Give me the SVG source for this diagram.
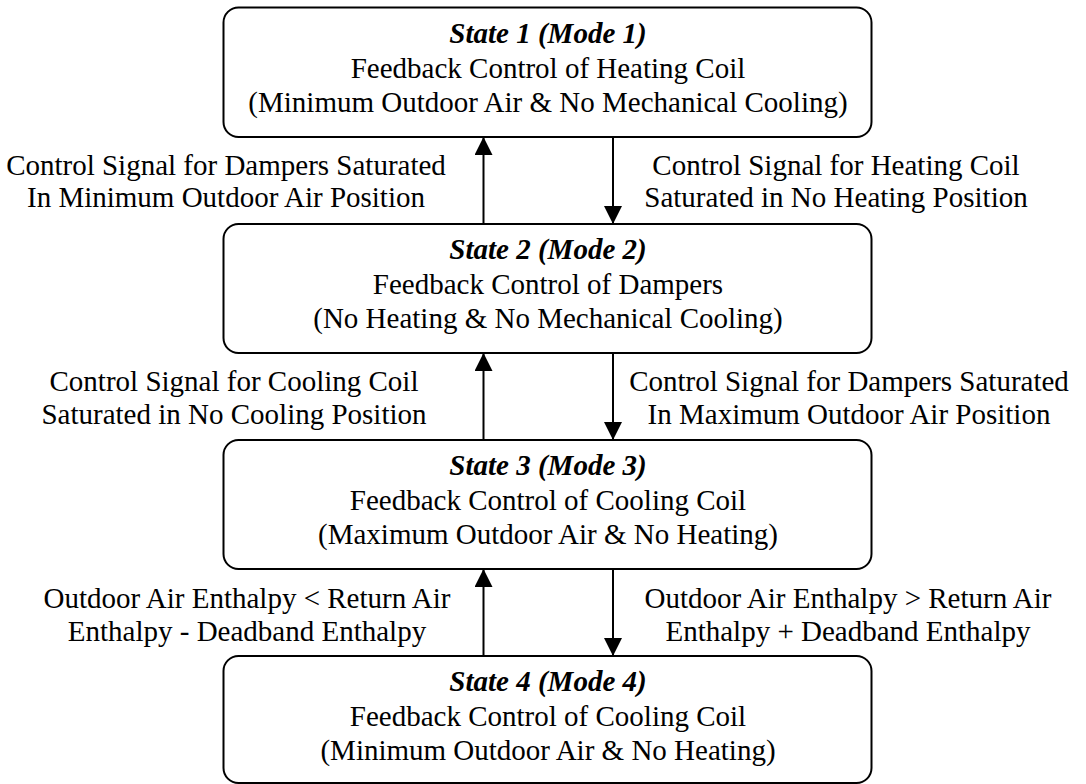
<svg xmlns="http://www.w3.org/2000/svg" width="1086" height="784" viewBox="0 0 1086 784">
<style>
  .box { fill: #ffffff; stroke: #000000; stroke-width: 2; }
  .t { font-family: "Liberation Serif", "Times New Roman", serif; font-size: 29px; fill: #000000; text-anchor: middle; }
  .ti { font-weight: bold; font-style: italic; }
  .conn { stroke: #000000; stroke-width: 2; fill: none; marker-end: url(#ah); }
</style>
<defs>
  <marker id="ah" viewBox="0 0 18 18" refX="18" refY="9" markerWidth="18" markerHeight="18" markerUnits="userSpaceOnUse" orient="auto">
    <path d="M0,0 L18,9 L0,18 Z" fill="#000000"/>
  </marker>
</defs>
<rect width="1086" height="784" fill="#ffffff"/>

<g id="state1">
  <rect class="box" x="223.5" y="7.5" width="648" height="129.5" rx="15" ry="15"/>
  <text class="t ti" x="548" y="43">State 1 (Mode 1)</text>
  <text class="t" x="548" y="78">Feedback Control of Heating Coil</text>
  <text class="t" x="548" y="112">(Minimum Outdoor Air &amp; No Mechanical Cooling)</text>
</g>
<g id="state2">
  <rect class="box" x="223.5" y="224" width="648" height="129" rx="15" ry="15"/>
  <text class="t ti" x="548" y="259">State 2 (Mode 2)</text>
  <text class="t" x="548" y="294">Feedback Control of Dampers</text>
  <text class="t" x="548" y="328">(No Heating &amp; No Mechanical Cooling)</text>
</g>
<g id="state3">
  <rect class="box" x="223.5" y="440" width="648" height="129" rx="15" ry="15"/>
  <text class="t ti" x="548" y="475">State 3 (Mode 3)</text>
  <text class="t" x="548" y="510">Feedback Control of Cooling Coil</text>
  <text class="t" x="548" y="544">(Maximum Outdoor Air &amp; No Heating)</text>
</g>
<g id="state4">
  <rect class="box" x="223.5" y="656" width="648" height="127" rx="15" ry="15"/>
  <text class="t ti" x="548" y="691">State 4 (Mode 4)</text>
  <text class="t" x="548" y="726">Feedback Control of Cooling Coil</text>
  <text class="t" x="548" y="760">(Minimum Outdoor Air &amp; No Heating)</text>
</g>

<g id="connectors">
  <line class="conn" x1="483.5" y1="224" x2="483.5" y2="137"/>
  <line class="conn" x1="613" y1="137" x2="613" y2="224"/>
  <line class="conn" x1="483.5" y1="440" x2="483.5" y2="353"/>
  <line class="conn" x1="613" y1="353" x2="613" y2="440"/>
  <line class="conn" x1="483.5" y1="656" x2="483.5" y2="569"/>
  <line class="conn" x1="613" y1="569" x2="613" y2="656"/>
</g>

<g id="labels">
  <text class="t" x="226" y="175">Control Signal for Dampers Saturated</text>
  <text class="t" x="226" y="207">In Minimum Outdoor Air Position</text>
  <text class="t" x="836" y="175">Control Signal for Heating Coil</text>
  <text class="t" x="836" y="207">Saturated in No Heating Position</text>
  <text class="t" x="234" y="391">Control Signal for Cooling Coil</text>
  <text class="t" x="234" y="424">Saturated in No Cooling Position</text>
  <text class="t" x="849" y="391">Control Signal for Dampers Saturated</text>
  <text class="t" x="849" y="424">In Maximum Outdoor Air Position</text>
  <text class="t" x="247" y="608">Outdoor Air Enthalpy &lt; Return Air</text>
  <text class="t" x="247" y="641">Enthalpy - Deadband Enthalpy</text>
  <text class="t" x="848" y="608">Outdoor Air Enthalpy &gt; Return Air</text>
  <text class="t" x="848" y="641">Enthalpy + Deadband Enthalpy</text>
</g>
</svg>
